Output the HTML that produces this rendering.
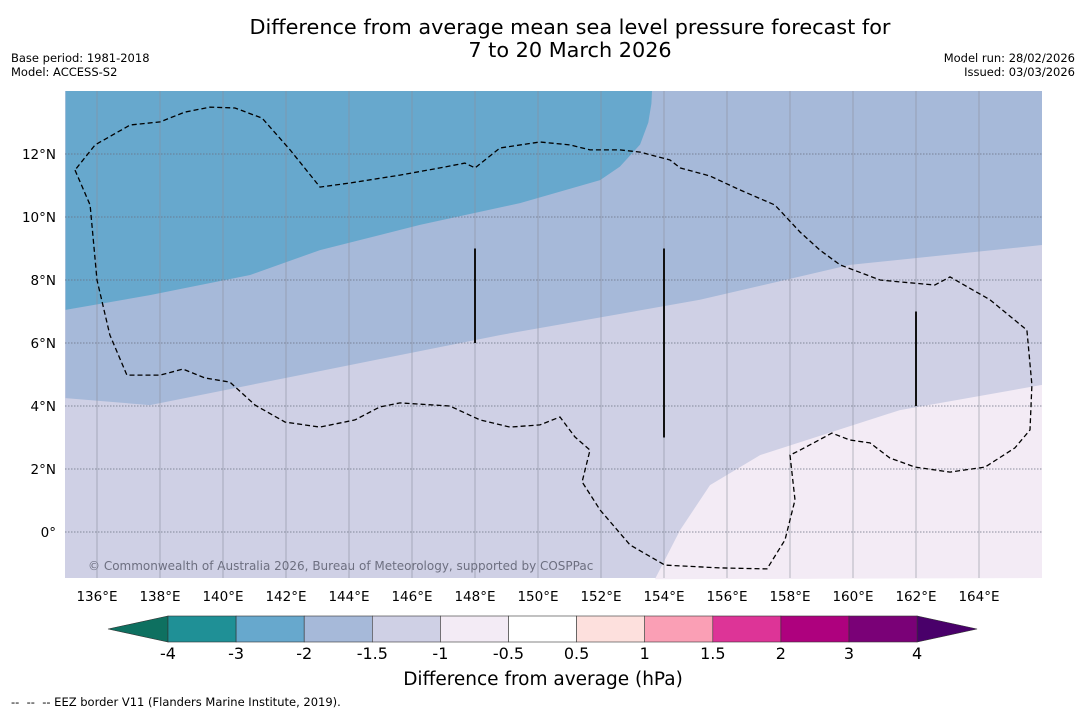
<!DOCTYPE html>
<html><head><meta charset="utf-8"><style>
body{margin:0;background:#fff;}
svg text{font-family:"DejaVu Sans","Liberation Sans",sans-serif;}
</style></head><body>
<svg id="c" width="1085" height="713" xmlns="http://www.w3.org/2000/svg">
<text x="570" y="34" font-size="20.8" text-anchor="middle">Difference from average mean sea level pressure forecast for</text>
<text x="570" y="57" font-size="20.8" text-anchor="middle">7 to 20 March 2026</text>
<text x="11" y="62" font-size="11.5">Base period: 1981-2018</text>
<text x="11" y="76" font-size="11.5">Model: ACCESS-S2</text>
<text x="1075" y="62" font-size="11.5" text-anchor="end">Model run: 28/02/2026</text>
<text x="1075" y="76" font-size="11.5" text-anchor="end">Issued: 03/03/2026</text>
<g id="map"></g>
<g id="cb"></g>
<text x="543" y="685" font-size="18.5" text-anchor="middle">Difference from average (hPa)</text>
<text x="11" y="706" font-size="11.5" xml:space="preserve" style="white-space:pre">--  --  -- EEZ border V11 (Flanders Marine Institute, 2019).</text>
</svg>
<script>
const lonTicks=[136,138,140,142,144,146,148,150,152,154,156,158,160,162,164];
const latTicks=[0,2,4,6,8,10,12];
const latLabels=["0°","2°N","4°N","6°N","8°N","10°N","12°N"];
const darkBoundary=[[135,7.05],[137.68,7.52],[140.86,8.16],[143.08,8.95],[146.25,9.75],[149.43,10.44],[151.97,11.17],[152.6,11.6],[153.24,12.3],[153.5,13.0],[153.6,13.6],[153.62,14]];
const midBoundary=[[135,4.25],[137.68,4.03],[142.44,4.98],[148.79,6.25],[155.14,7.37],[159.9,8.48],[166,9.11]];
const pinkBoundary=[[153.71,-1.5],[154.51,0.06],[155.46,1.49],[157.05,2.44],[161.49,3.87],[166,4.67]];
const eez=[[135.3,11.49],[135.78,10.38],[136,8.0],[136.41,6.25],[136.95,4.98],[138,4.98],[138.73,5.17],[139.43,4.89],[140.22,4.76],[141.02,4.03],[141.97,3.49],[143.08,3.33],[144.19,3.56],[144.98,3.97],[145.62,4.1],[147.2,4.0],[148.16,3.56],[149.11,3.33],[150.06,3.4],[150.7,3.65],[151.17,3.02],[151.65,2.6],[151.4,1.59],[151.97,0.7],[152.92,-0.41],[154.03,-1.05],[155.78,-1.14],[157.27,-1.17],[157.84,-0.25],[158.16,1.02],[158,2.44],[158.32,2.6],[159.33,3.14],[159.9,2.92],[160.54,2.83],[161.17,2.35],[161.97,2.06],[163.08,1.9],[164.19,2.06],[165.14,2.67],[165.62,3.24],[165.68,4.67],[165.52,6.41],[164.35,7.37],[163.08,8.1],[162.6,7.84],[161.49,7.94],[160.86,8.0],[159.59,8.48],[158.95,8.95],[158.32,9.52],[157.52,10.38],[156.41,10.86],[155.46,11.3],[154.51,11.56],[154.19,11.81],[153.24,12.06],[152.6,12.13],[151.65,12.13],[151.02,12.29],[150.06,12.38],[148.79,12.19],[148,11.56],[147.68,11.71],[146.89,11.56],[145.62,11.33],[144.03,11.08],[143.08,10.95],[142.13,12.13],[141.24,13.14],[140.38,13.46],[139.59,13.49],[138.79,13.33],[138,13.02],[137.05,12.92],[135.94,12.29],[135.3,11.49]];
const barLon=[148,154,162];const barLat0=[6,3,4];const barLat1=[9,9,7];
const cbLevels=["-4","-3","-2","-1.5","-1","-0.5","0.5","1","1.5","2","3","4"];
const cbColors=["#1f9096","#67a8cd","#a6b9d9","#cfd0e5","#f3ebf5","#ffffff","#fde0dd","#fa9fb5","#dd3497","#ae017e","#7a0177"];
const NS="http://www.w3.org/2000/svg";
const X0=65,X1=1042,Y0=91,Y1=578;
const lonMin=135,latMax=14,k=31.5;
const sx=l=>X0+0.5+(l-lonMin)*k, sy=l=>Y0+(latMax-l)*k;
const map=document.getElementById('map');
function mk(t,a,p){const e=document.createElementNS(NS,t);for(const q in a)e.setAttribute(q,a[q]);(p||map).appendChild(e);return e;}
const pts=a=>a.map(p=>sx(p[0]).toFixed(1)+','+sy(p[1]).toFixed(1)).join(' ');
let e;
e=mk('rect',{x:X0,y:Y0,width:X1-X0,height:Y1-Y0,fill:'#cfd0e5'});


e=mk('polygon',{points:pts(midBoundary)+' '+sx(166)+','+sy(14)+' '+sx(135)+','+sy(14),fill:'#a6b9d9'});


e=mk('polygon',{points:pts(darkBoundary)+' '+sx(135)+','+sy(14),fill:'#67a8cd'});


e=mk('polygon',{points:pts(pinkBoundary)+' '+sx(166)+','+Y1,fill:'#f3ebf5'});


lonTicks.forEach(l=>{
 e=mk('line',{x1:sx(l),x2:sx(l),y1:Y0,y2:Y1,stroke:'#8a8f9c','stroke-width':0.6});
 
 
 e=mk('text',{x:sx(l),y:601,'font-size':13.5,'text-anchor':'middle'});e.textContent=l+'°E';
 
 
});
latTicks.forEach((l,i)=>{
 e=mk('line',{x1:X0,x2:X1,y1:sy(l),y2:sy(l),stroke:'#6a6f80','stroke-width':0.7,'stroke-dasharray':'1.5,1.5'});
 
 
 e=mk('text',{x:56,y:sy(l)+5,'font-size':13.5,'text-anchor':'end'});e.textContent=latLabels[i];
 
 
});
e=mk('polyline',{points:pts(eez),fill:'none',stroke:'#000','stroke-width':1.3,'stroke-dasharray':'5,3'});


barLon.forEach((l,i)=>{
 e=mk('line',{x1:sx(l),x2:sx(l),y1:sy(barLat1[i]),y2:sy(barLat0[i]),stroke:'#111','stroke-width':2});
 
 
});
e=mk('text',{x:88,y:570,'font-size':12,fill:'#6d6f80'});e.textContent='© Commonwealth of Australia 2026, Bureau of Meteorology, supported by COSPPac';


const cb=document.getElementById('cb');
const c0=168,cw=68.1,cy=616,ch=26;
e=mk('polygon',{points:`108,629 ${c0},${cy} ${c0},${cy+ch}`,fill:'#0e7060',stroke:'#333','stroke-width':0.6},cb);


const cEnd=c0+cw*cbColors.length;
e=mk('polygon',{points:`${cEnd+60},629 ${cEnd},${cy} ${cEnd},${cy+ch}`,fill:'#49006a',stroke:'#333','stroke-width':0.6},cb);


cbColors.forEach((c,i)=>{
 e=mk('rect',{x:c0+i*cw,y:cy,width:cw,height:ch,fill:c,stroke:'#333','stroke-width':0.6},cb);
 
 
});
cbLevels.forEach((t,i)=>{
 e=mk('text',{x:c0+i*cw,y:659,'font-size':16,'text-anchor':'middle'},cb);e.textContent=t;
 
 
});
</script>
</body></html>
